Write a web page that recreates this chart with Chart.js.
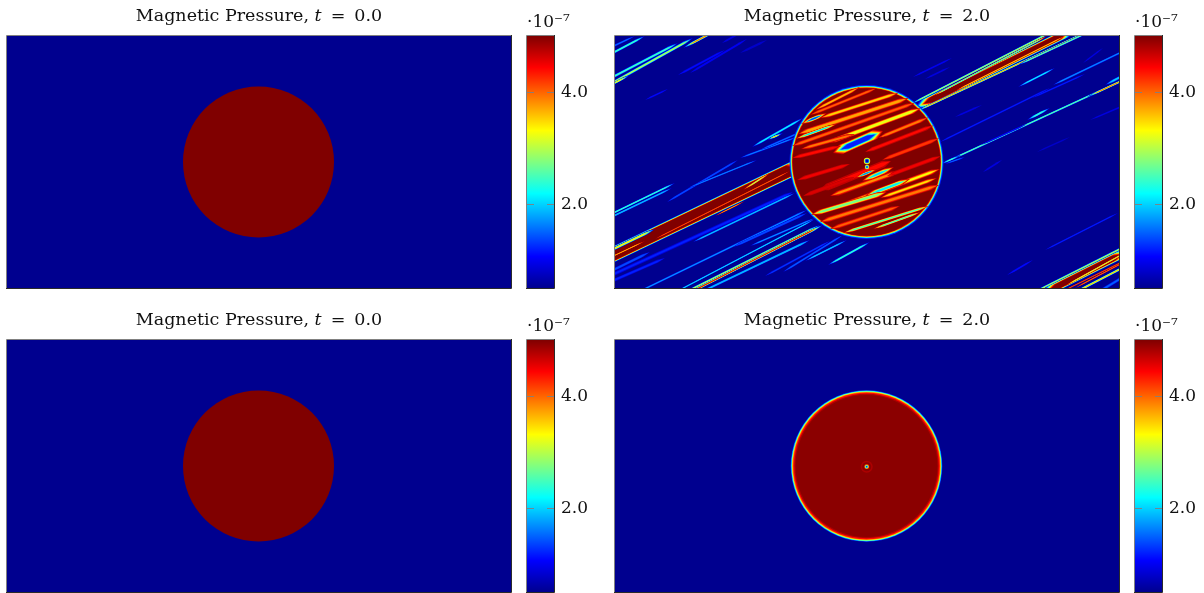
<!DOCTYPE html>
<html><head><meta charset="utf-8">
<script src="https://cdn.jsdelivr.net/npm/chart.js@4"></script>
<style>html,body{margin:0;padding:0;background:#fff;overflow:hidden}canvas{position:absolute}</style>
</head><body>
<script>
// Values in pressure units of 1e-7; positions in grid cells (col, row) of a 504 x 252 field.
const panelTimes = [0.0, 2.0, 0.0, 2.0];
const exponentLabel = '·10⁻⁷';
const barTicks = [2, 4];
const pressureMin = 0.5, pressureMax = 5;
const discCentre = [251.5, 126];
const discRadius = 75.5;
// panel t=2 (top): rim of the advected disc
const rimRadiiTop = [77, 76, 75.2, 74.5, 73.8];
const rimPressureTop = [1.2, 2.2, 3.5, 4.6, 5];
// panel t=2 (top): pair of blobs at the centre
const blobCentreA = [252, 125], blobRadiiA = [3.2, 2.3, 1.4], blobPressureA = [3.2, 1.6, 0.7];
const blobCentreB = [252, 131], blobRadiiB = [2.2, 1.3], blobPressureB = [3, 1.6];
// panel t=2 (bottom): smooth rim and central dot
const rimRadiiBottom = [75.8, 75.2, 74.6, 74, 73.3, 72.2, 71];
const rimPressureBottom = [1.3, 2.2, 3.2, 3.9, 4.4, 4.8, 4.95];
const dotCentre = [251.7, 126.7];
const dotRadii = [6, 4.5, 2.4, 1.8, 1.2, 0.6];
const dotPressure = [4.8, 4.95, 4, 3, 2, 0.9];
// [col0,row0,col1,row1,peak,thickness]
const wakeStreaks = [
 [-10,51,78,2,3,3],[-10,45,63,7,2.5,3],[-8,51,15,39,3.4,2],[68,12,104,-7,3.9,2.5],[-12,22,30,0,2.4,2.5],[-12,15,20,0,1.6,2],
 [63,39,110,14,1.1,2],[75,37,132,3,1,2],[30,64,53,53,1.1,1.5],[107,7,125,-3,0.9,2],[125,17,152,4,0.8,2],
 [137,111,188,82,2.2,2.5],[152,104,168,97,3.6,2],[125,122,182,101,1.7,2],[145,114,195,92,1.6,2],
 [296,68,440,-6,3,2],[300,72,460,-7,5,9],[302,75,476,-6,3.8,2],[403,29,478,-6,2.8,2],
 [335,124,515,41,2.6,2],[472,61,515,41,3.9,2],[490,49,515,36,2,3],[403,51,440,32,2.2,2],
 [438,49,515,12,1.7,2],[325,106,435,52,1.2,1.5],[412,84,435,72,2.4,2.5],[298,41,337,22,1,1.5],[310,43,335,31,0.9,1.5],
 [475,84,515,67,0.9,1.5],[340,81,367,69,0.9,1.5],[422,116,455,101,0.8,1.5],[468,27,488,12,0.9,1.5],[417,62,470,38,1.2,1.5],
 [326,128,346,119,2.5,2],[366,109,412,88,1.1,1.5],
 [-30,232,190,127,5,15],[-12,218,40,193,3.4,3],
 [-12,243,178,156,1.2,3.5],[78,206,180,157,2,2],[-12,239,35,216,1.4,3],[-12,249,50,222,1.2,3],
 [15,260,192,174,1.8,2],[65,259,205,189,3,2.5],[70,259,208,189,4.6,2.5],[80,259,195,204,1.9,2.5],[55,259,200,183,2.2,1.5],
 [-12,182,60,147,2.4,2],[-12,185,57,152,1.9,2],[52,166,123,124,1.4,2],[73,152,142,124,1.7,1.5],
 [118,211,192,177,1.4,2.5],[135,210,200,182,1.8,2],[168,236,228,199,1.5,2],[150,240,215,205,1.3,2],[190,225,232,204,2,2],[213,229,255,206,2.4,2.5],
 [410,261,515,208,3,2.5],[425,259,515,214,5,9],[455,259,515,228,3.6,2.5],[480,258,515,237,1.5,3],
 [430,214,503,177,1.2,1.5],[392,239,418,224,1.1,2],[368,136,387,124,0.9,1.5],
 [330,128,350,121,1.6,1.5]
];
// thin troughs cut into the dark bands
const bandTroughs = [
 [318,60,432,0,2.2,1.5],[340,55,450,0,3.4,1.2],[128,154,155,137,2.8,2],[40,203,175,135,3.9,1],[100,180,130,165,3.5,1],
 [-10,224,30,205,3.5,1],[450,250,515,214,3,1.5],[460,252,515,223,3.8,1.2],[440,259,515,222,4,1]
];
// troughs inside the disc (ends are trimmed at the disc edge)
const discStripes = [
 [200,74,245,51,3.6,3],[195,79,262,52,4,3],[186,88,212,77,1.3,4],[205,82,295,53,3.5,4],[183,98,300,60,3.7,5],
 [180,103,222,88,2,3],[177,110,305,65,4,4],[212,107,312,70,3.2,5],[218,117,268,95,1.2,10],[186,113,240,98,3.9,4],
 [263,102,322,78,3.9,4],[177,122,226,110,4.4,4],[250,116,325,87,4.4,4],[267,124,325,102,4.2,4],[205,154,276,125,4.4,7],
 [215,160,285,135,3.8,5],[247,145,279,131,2,5],[225,170,325,133,3.3,5],[250,160,295,143,2.1,5],[195,179,272,156,2.7,5],
 [265,162,322,142,3.4,4],[205,186,324,149,3.9,5],[215,193,285,170,4,4],[228,197,314,170,2.4,3],[258,193,306,176,2.4,2.5],
 [240,142,262,133,1.6,3],[182,144,235,128,4.5,4],[272,140,326,120,4.5,4],[188,160,240,141,4.6,4]
];
const ladder = [0.9, 1.3, 1.8, 2.3, 2.8, 3.3, 3.8, 4.3, 4.7];

function jet(p){
  const f = Math.min(1, Math.max(0, (p - pressureMin) / (pressureMax - pressureMin)));
  const seg = (a,b,c,d) => Math.max(0, Math.min(1, Math.min((f-a)/(b-a), (d-f)/(d-c)))) ;
  const r = f < 7/8 ? Math.max(0, Math.min(1,(f-3/8)*4)) : 1 - (f-7/8)*4;
  const g = seg(1/8,3/8,5/8,7/8);
  const b = f < 1/8 ? 0.5625 + f*3.5 : Math.max(0, Math.min(1,(5/8-f)*4));
  return `rgb(${Math.round(r*255)},${Math.round(g*255)},${Math.round(b*255)})`;
}
function spindle(x0,y0,x1,y1,w,insetCells){
  const dx=x1-x0, dy=y1-y0, L=Math.hypot(dx,dy), nx=-dy/L*w/2, ny=dx/L*w/2;
  const inset=Math.min(.2,insetCells/L), ramp=Math.min(.25,8/L);
  const P=(t,s)=>({x:x0+dx*t+nx*s, y:y0+dy*t+ny*s});
  return [P(inset,0),P(inset+ramp,1),P(1-inset-ramp,1),P(1-inset,0),P(1-inset-ramp,-1),P(inset+ramp,-1),P(inset,0)];
}
function shape(points,p){
  return {data:points,backgroundColor:jet(p),borderWidth:0,pointRadius:0,fill:'shape',tension:0};
}
function layers(row, rising){
  const [x0,y0,x1,y1,p,w]=row;
  const lv = rising ? ladder.filter(l=>l<p).concat([p]) : ladder.slice().reverse().filter(l=>l>p).concat([p]);
  const edge = Math.min(.42*w, rising ? 2 : 3.5);
  return lv.map((l,i)=>shape(spindle(x0,y0,x1,y1,w-2*edge*i/lv.length,i*1.2),l));
}
function trimToDisc(row){
  const [x0,y0,x1,y1]=row, R=discRadius+1, cx=discCentre[0], cy=discCentre[1];
  const dx=x1-x0, dy=y1-y0, a=dx*dx+dy*dy, b=2*(dx*(x0-cx)+dy*(y0-cy)), c=(x0-cx)**2+(y0-cy)**2-R*R, q=Math.sqrt(Math.max(0,b*b-4*a*c));
  const t0=Math.max(0,(-b-q)/(2*a)), t1=Math.min(1,(-b+q)/(2*a));
  return [x0+dx*t0,y0+dy*t0,x0+dx*t1,y0+dy*t1,row[4],row[5]];
}
function disc(c,r,p){
  return {data:[{x:c[0],y:c[1]}],showLine:false,backgroundColor:jet(p),borderWidth:0,pointBorderWidth:0,
    pointRadius:ctx=>{const s=ctx.chart.scales.x;return s.getPixelForValue(r)-s.getPixelForValue(0);}};
}
const frame = {id:'frame',
  beforeDatasetsDraw(chart,a,o){ if(!o.field) return; const {left,top,width,height}=chart.chartArea; const g=chart.ctx; g.save(); g.fillStyle=jet(pressureMin); g.fillRect(left,top,width,height); g.restore(); },
  afterDatasetsDraw(chart){ const {left,top,right,bottom}=chart.chartArea; const g=chart.ctx; g.save(); g.lineWidth=1;
    g.strokeStyle='#808080'; g.beginPath(); g.moveTo(left-.5,bottom); g.lineTo(left-.5,top-.5); g.lineTo(right,top-.5); g.stroke();
    g.strokeStyle='#2a2a2a'; g.beginPath(); g.moveTo(right+.5,top-1); g.lineTo(right+.5,bottom+.5); g.lineTo(left-1,bottom+.5); g.stroke(); g.restore(); }
};
const FONT = 'DejaVu Serif';
function mk(left,top,w,h){ const c=document.createElement('canvas'); c.width=w;c.height=h;c.style.left=left+'px';c.style.top=top+'px';c.style.width=w+'px';c.style.height=h+'px';document.body.appendChild(c);return c; }
function panel(left,top,time,datasets){
  new Chart(mk(left-2,top-36,508,290),{type:'line',data:{datasets:datasets.slice().reverse()},plugins:[frame],options:{
    responsive:false,animation:false,devicePixelRatio:1,layout:{padding:{left:2,right:2,bottom:2,top:0}},
    scales:{x:{type:'linear',display:false,min:0,max:504},y:{type:'linear',display:false,reverse:true,min:0,max:252}},
    plugins:{legend:{display:false},tooltip:{enabled:false},frame:{field:true},
      title:{display:true,text:`Magnetic Pressure, 𝑡\u2009 = \u2009${time.toFixed(1)}`,color:'#111',font:{family:FONT,size:17.5,weight:'normal',lineHeight:'20px'},padding:{top:6,bottom:10}}}
  }});
}
function bar(left,top){
  new Chart(mk(left-2,top-36,70,290),{type:'bar',data:{labels:[''],datasets:[{data:[[pressureMin,pressureMax]],barPercentage:1,categoryPercentage:1,borderWidth:0,
    backgroundColor:ctx=>{const a=ctx.chart.chartArea; if(!a) return '#000'; const s=ctx.chart.scales.y; const g=ctx.chart.ctx.createLinearGradient(0,s.getPixelForValue(pressureMin),0,s.getPixelForValue(pressureMax));
      for(let i=0;i<=16;i++){const f=i/16; g.addColorStop(f,jet(pressureMin+f*(pressureMax-pressureMin)));} return g;}}]},
    plugins:[frame],options:{responsive:false,animation:false,devicePixelRatio:1,layout:{padding:{left:2,right:0,bottom:2,top:0}},
    scales:{x:{display:false},y:{type:'linear',position:'right',min:pressureMin,max:pressureMax,
      afterBuildTicks:s=>{s.ticks=barTicks.map(v=>({value:v}));},
      afterFit:s=>{s.width=41;s.paddingTop=0;s.paddingBottom=0;},
      border:{display:false,dash:[7,13]},
      grid:{color:'rgba(128,128,128,.9)',drawTicks:false,lineWidth:1,z:1},
      ticks:{padding:7,labelOffset:1,color:'#111',callback:v=>v.toFixed(1),font:{family:FONT,size:17}}}},
    plugins:{legend:{display:false},tooltip:{enabled:false},
      title:{display:true,align:'start',text:exponentLabel,color:'#111',font:{family:FONT,size:17,weight:'normal',lineHeight:'20px'},padding:{top:13,bottom:3}}}
  }});
}
const t0 = [disc(discCentre,discRadius,pressureMax)];
const wake = wakeStreaks.flatMap(r=>layers(r,true));
const troughs = bandTroughs.flatMap(r=>layers(r,false));
const rimTop = rimRadiiTop.map((r,i)=>disc(discCentre,r,rimPressureTop[i]));
const stripes = discStripes.map(trimToDisc).flatMap(r=>layers(r,false));
const blobs = [...blobRadiiB.map((r,i)=>disc(blobCentreB,r,blobPressureB[i])),...blobRadiiA.map((r,i)=>disc(blobCentreA,r,blobPressureA[i]))];
const rimBot = rimRadiiBottom.map((r,i)=>disc(discCentre,r,rimPressureBottom[i]));
const dot = dotRadii.map((r,i)=>disc(dotCentre,r,dotPressure[i]));
panel(7,36,panelTimes[0],t0); bar(527,36);
panel(615,36,panelTimes[1],[...wake,...troughs,...rimTop,...stripes,...blobs]); bar(1135,36);
panel(7,340,panelTimes[2],t0.map(d=>({...d}))); bar(527,340);
panel(615,340,panelTimes[3],[...rimBot,...dot]); bar(1135,340);
</script>
</body></html>
